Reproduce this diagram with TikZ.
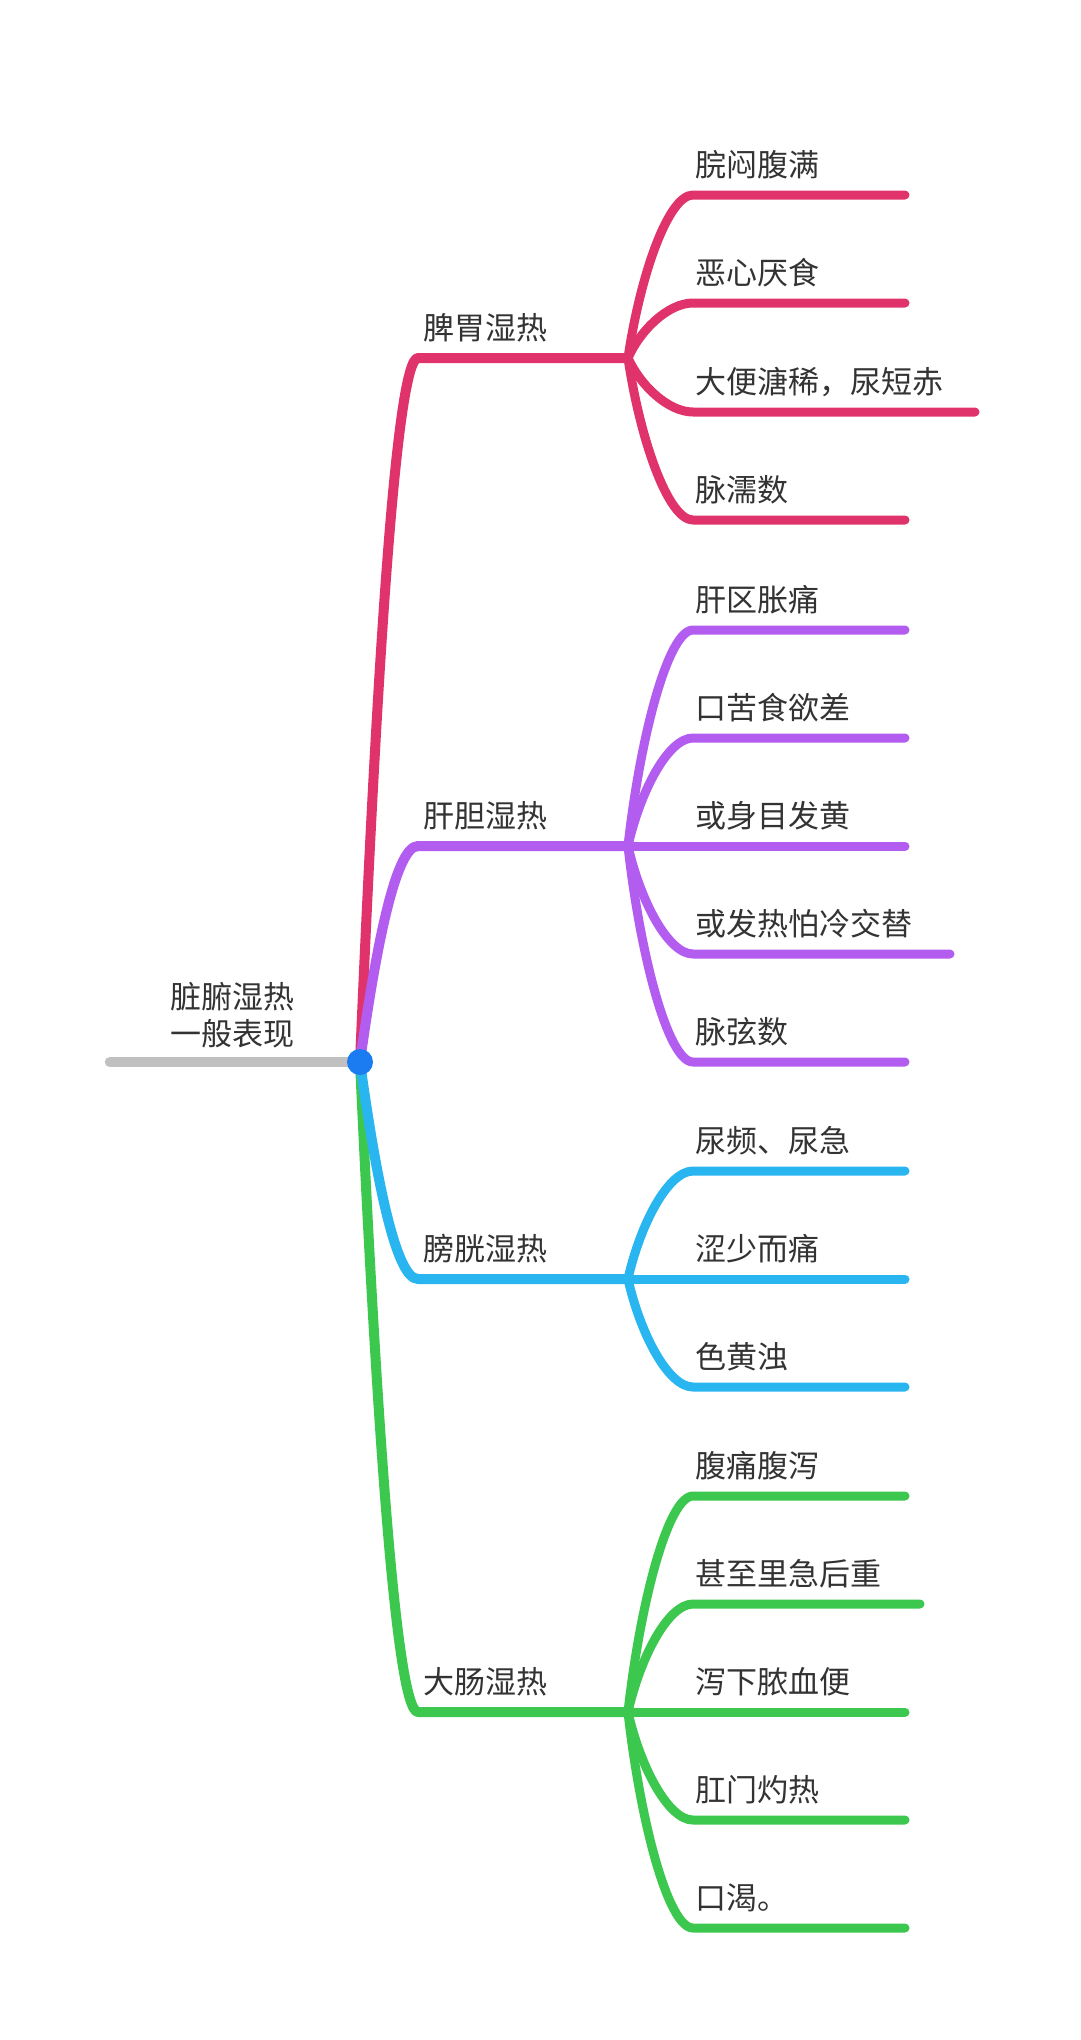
\documentclass[tikz,border=0pt]{standalone}
\usepackage{fontspec}
\setmainfont{Noto Sans CJK SC}
\usetikzlibrary{calc}
\definecolor{cpink}{HTML}{E0336B}
\definecolor{cpurple}{HTML}{B35CF0}
\definecolor{cblue}{HTML}{29B6F0}
\definecolor{cgreen}{HTML}{3CC84E}
\definecolor{cgray}{HTML}{C0C0C0}
\definecolor{cdot}{HTML}{1A7CF0}
\definecolor{ctext}{HTML}{333333}
\newcommand{\mybranch}[4]{%
  \coordinate (#1c) at (418,#3);
  \coordinate (#1f) at (628,#3);
  \draw[mainline,#2] (root) .. controls ($(root)+(15,{(#3-1062)*0.5})$) and ($(#1c)+(-23,0)$) .. (#1c) -- (#1f);
  \node[lbl] (#1t) at (423,{#3-19}) {#4};
}
\newcommand{\mychild}[7]{%
  \coordinate (#2s) at (693,#5);
  \coordinate (#2e) at (#6,#5);
  \draw[subline,#3] (#1f) .. controls ($(#1f)+(12,{(#5-#4)*0.5})$) and ($(#2s)+(-25,0)$) .. (#2s) -- (#2e);
  \node[lbl] (#2t) at (695,{#5-19}) {#7};
}
\begin{document}
\begin{tikzpicture}[x=1pt,y=-1pt,
  mainline/.style={line width=10pt, line cap=round, line join=round},
  subline/.style={line width=9pt, line cap=round, line join=round},
  lbl/.style={anchor=base west, inner sep=0pt, text=ctext, font=\fontsize{31}{37}\selectfont}]
\useasboundingbox[fill=white] (0,0) rectangle (1080,2040);
\coordinate (root) at (360,1062);
\coordinate (start) at (110,1062);
\draw[line width=10.5pt, cgray, line cap=round] (start) -- (root);
% pink
\mybranch{a}{cpink}{358}{脾胃湿热}
\mychild{a}{a1}{cpink}{358}{195}{905}{脘闷腹满}
\mychild{a}{a2}{cpink}{358}{303}{905}{恶心厌食}
\mychild{a}{a3}{cpink}{358}{412}{975}{大便溏稀，尿短赤}
\mychild{a}{a4}{cpink}{358}{520}{905}{脉濡数}
% purple
\mybranch{b}{cpurple}{846}{肝胆湿热}
\mychild{b}{b1}{cpurple}{846}{630}{905}{肝区胀痛}
\mychild{b}{b2}{cpurple}{846}{738}{905}{口苦食欲差}
\mychild{b}{b3}{cpurple}{846}{846}{905}{或身目发黄}
\mychild{b}{b4}{cpurple}{846}{954}{950}{或发热怕冷交替}
\mychild{b}{b5}{cpurple}{846}{1062}{905}{脉弦数}
% green
\mybranch{d}{cgreen}{1712}{大肠湿热}
\mychild{d}{d1}{cgreen}{1712}{1496}{905}{腹痛腹泻}
\mychild{d}{d2}{cgreen}{1712}{1604}{920}{甚至里急后重}
\mychild{d}{d3}{cgreen}{1712}{1712}{905}{泻下脓血便}
\mychild{d}{d4}{cgreen}{1712}{1820}{905}{肛门灼热}
\mychild{d}{d5}{cgreen}{1712}{1928}{905}{口渴。}
% blue
\mybranch{c}{cblue}{1279}{膀胱湿热}
\mychild{c}{c1}{cblue}{1279}{1171}{905}{尿频、尿急}
\mychild{c}{c2}{cblue}{1279}{1279}{905}{涩少而痛}
\mychild{c}{c3}{cblue}{1279}{1387}{905}{色黄浊}
% root
\node[circle, fill=cdot, minimum size=26pt, inner sep=0pt] (rootdot) at (root) {};
\node[anchor=north east, align=right, inner sep=0pt, text=ctext, font=\fontsize{31}{37}\selectfont] (rootlbl) at (295,982) {脏腑湿热\\一般表现};
\end{tikzpicture}
\end{document}
